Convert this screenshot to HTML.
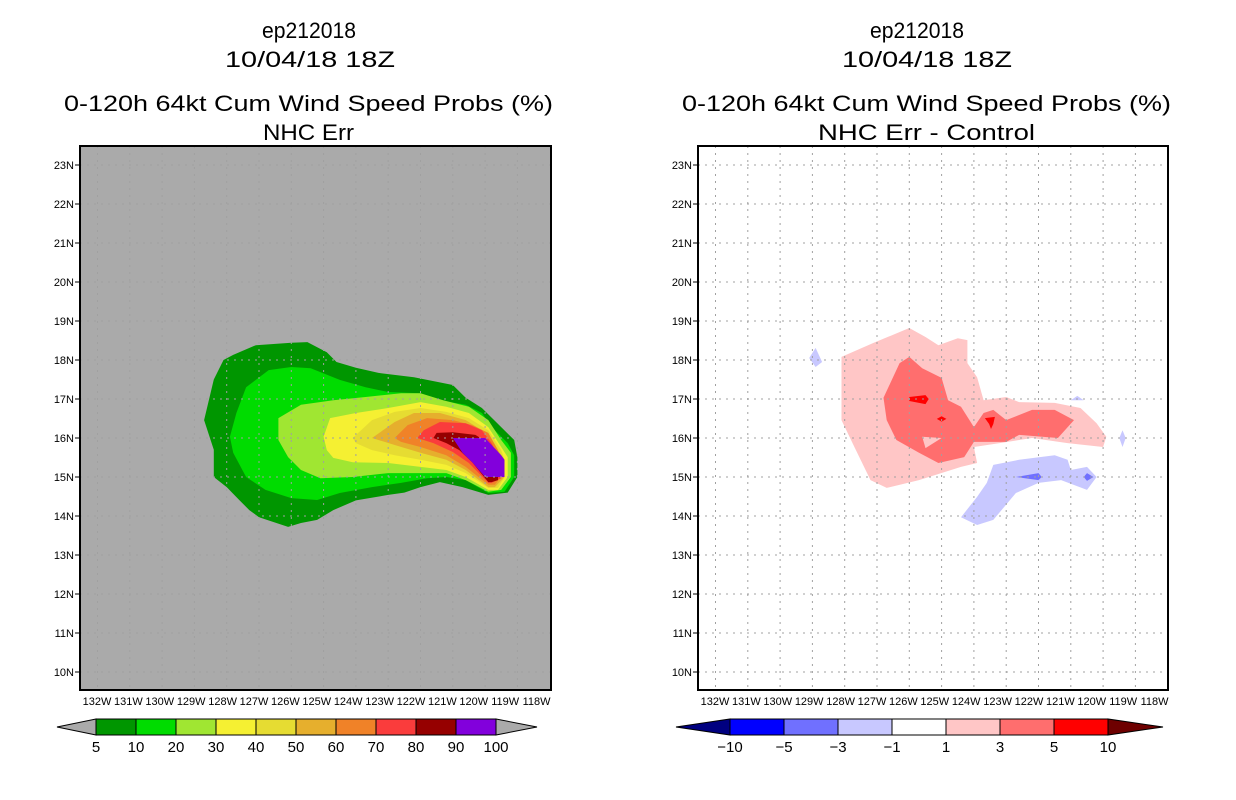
<!DOCTYPE html>
<html><head><meta charset="utf-8"><style>
html,body{margin:0;padding:0;background:#fff;}
svg{display:block;}
text{font-family:"Liberation Sans",sans-serif;fill:#000;}
.t{font-size:22px;}
.ax{font-size:11px;}
.cb{font-size:15px;}
</style></head><body>
<svg id="chart" width="1236" height="800" viewBox="0 0 1236 800" xmlns="http://www.w3.org/2000/svg">
<defs>
<clipPath id="clipL"><rect x="80" y="146" width="471" height="544"/></clipPath>
<clipPath id="clipR"><rect x="698" y="146" width="470" height="544"/></clipPath>
</defs>
<g>
<text class="t" x="262" y="38" textLength="94" lengthAdjust="spacingAndGlyphs">ep212018</text>
<text class="t" x="225" y="67" textLength="170" lengthAdjust="spacingAndGlyphs">10/04/18 18Z</text>
<text class="t" x="64" y="111" textLength="489" lengthAdjust="spacingAndGlyphs">0-120h 64kt Cum Wind Speed Probs (%)</text>
<text class="t" x="263" y="140" textLength="91" lengthAdjust="spacingAndGlyphs">NHC Err</text>
</g>
<g>
<text class="t" x="870" y="38" textLength="94" lengthAdjust="spacingAndGlyphs">ep212018</text>
<text class="t" x="842" y="67" textLength="170" lengthAdjust="spacingAndGlyphs">10/04/18 18Z</text>
<text class="t" x="682" y="111" textLength="489" lengthAdjust="spacingAndGlyphs">0-120h 64kt Cum Wind Speed Probs (%)</text>
<text class="t" x="818" y="140" textLength="217" lengthAdjust="spacingAndGlyphs">NHC Err - Control</text>
</g>
<rect x="80" y="146" width="471" height="544" fill="#aaaaaa"/>
<g id="leftFill" clip-path="url(#clipL)"></g>
<g id="rightFill" clip-path="url(#clipR)"></g>
<g id="grids"></g>
<rect x="80" y="146" width="471" height="544" fill="none" stroke="#000" stroke-width="2"/>
<rect x="698" y="146" width="470" height="544" fill="none" stroke="#000" stroke-width="2"/>
<g id="axes"></g>
<g id="cbars"></g>
</svg>
<script>
// axis data
const latTicks = [23,22,21,20,19,18,17,16,15,14,13,12,11,10];
const lonTicks = [132,131,130,129,128,127,126,125,124,123,122,121,120,119,118];
// left colorbar
const leftLevels = ['5','10','20','30','40','50','60','70','80','90','100'];
const leftColors = ['#009600','#00dc00','#a0e632','#f5f032','#e6dc32','#e6af2d','#f08228','#fa3c3c','#960000','#8200dc'];
// right colorbar
const rightLevels = ['\u221210','\u22125','\u22123','\u22121','1','3','5','10'];
const rightColors = ['#0000ff','#7070ff','#c8c8ff','#ffffff','#ffc6c6','#ff6e6e','#ff0000'];
// left contour polygons [lonW, lat]
const p5 = [[128.1,18.0],[127.8,18.13],[127.1,18.38],[126.0,18.44],[125.5,18.46],[124.9,18.2],[124.6,17.95],[124.0,17.8],[123.3,17.67],[122.2,17.56],[121.5,17.44],[121.0,17.36],[120.6,17.03],[120.1,16.77],[119.5,16.28],[119.1,15.95],[119.0,15.5],[119.0,15.0],[119.3,14.6],[119.9,14.54],[120.7,14.74],[121.4,14.87],[122.0,14.74],[122.5,14.6],[123.0,14.54],[124.0,14.4],[124.7,14.15],[125.2,13.9],[125.7,13.82],[126.1,13.72],[127.0,13.97],[127.3,14.15],[127.6,14.4],[128.0,14.74],[128.4,15.0],[128.4,15.7],[128.7,16.46],[128.4,17.5]];
const p10 = [[127.4,17.3],[126.7,17.74],[126.0,17.82],[125.4,17.79],[124.5,17.49],[123.7,17.3],[123.0,17.18],[122.0,17.15],[121.4,16.97],[120.6,16.85],[120.1,16.64],[119.8,16.28],[119.3,15.87],[119.1,15.56],[119.1,15.0],[119.4,14.62],[119.9,14.59],[120.6,14.92],[121.2,15.0],[121.8,14.97],[122.6,14.85],[123.5,14.74],[124.5,14.59],[125.2,14.41],[126.0,14.46],[126.8,14.67],[127.4,15.0],[127.8,15.62],[127.9,16.03],[127.7,16.64]];
const p20 = [[126.4,16.51],[125.7,16.85],[124.7,16.97],[123.7,17.05],[122.6,17.15],[122.0,17.15],[121.3,16.97],[120.5,16.8],[119.9,16.46],[119.5,15.95],[119.2,15.62],[119.2,15.0],[119.5,14.67],[119.9,14.62],[120.6,14.92],[121.2,15.1],[122.0,15.1],[123.0,15.1],[124.1,15.0],[125.1,14.97],[125.7,15.18],[126.1,15.51],[126.4,15.95]];
const p30 = [[125.0,16.03],[124.8,16.51],[124.0,16.64],[123.0,16.77],[122.0,16.92],[121.2,16.8],[120.5,16.64],[119.9,16.28],[119.5,15.77],[119.3,15.51],[119.3,15.0],[119.6,14.67],[119.9,14.67],[120.6,15.0],[121.2,15.18],[122.0,15.26],[123.0,15.36],[124.1,15.38],[124.7,15.49],[124.9,15.69]];
const p40 = [[124.1,16.0],[123.5,16.46],[122.8,16.67],[122.0,16.77],[121.2,16.67],[120.5,16.51],[119.9,16.2],[119.5,15.69],[119.4,15.44],[119.4,15.0],[119.6,14.72],[119.9,14.72],[120.6,15.1],[121.2,15.31],[122.0,15.44],[122.8,15.56],[123.5,15.69],[124.0,15.87]];
const p50 = [[123.5,16.0],[122.8,16.41],[122.2,16.64],[121.4,16.64],[120.6,16.46],[120.1,16.2],[119.6,15.69],[119.4,15.44],[119.4,15.0],[119.7,14.74],[119.9,14.74],[120.6,15.18],[121.2,15.44],[122.0,15.62],[122.8,15.82]];
const p60 = [[122.8,16.0],[122.4,16.33],[121.8,16.51],[121.0,16.46],[120.4,16.33],[119.9,16.13],[119.6,15.69],[119.5,15.38],[119.5,15.0],[119.7,14.8],[119.9,14.8],[120.6,15.26],[121.2,15.56],[122.0,15.77],[122.6,15.9]];
const p70 = [[122.1,16.0],[121.9,16.2],[121.4,16.41],[120.6,16.38],[120.1,16.2],[119.8,15.87],[119.5,15.36],[119.5,14.97],[119.8,14.85],[119.9,14.85],[120.5,15.36],[121.0,15.64],[121.6,15.87]];
const p80 = [[121.6,16.0],[121.5,16.13],[121.0,16.15],[120.3,16.08],[119.8,15.82],[119.6,15.36],[119.6,14.92],[119.8,14.87],[119.9,14.87],[120.4,15.38],[120.8,15.69],[121.2,15.87]];
const p90 = [[121.0,16.0],[120.0,16.0],[119.5,15.56],[119.4,15.44],[119.4,15.0],[120.0,15.0],[120.4,15.38],[120.7,15.62]];
// right contour polygons [lonW, lat]
const rPink1 = [[128.1,18.08],[127.1,18.44],[126.0,18.82],[125.5,18.59],[125.1,18.38],[124.5,18.56],[124.2,18.51],[124.2,17.92],[123.9,17.56],[123.7,16.97],[123.0,17.05],[122.6,16.92],[121.5,16.9],[120.7,16.77],[120.2,16.38],[119.9,16.03],[120.0,15.77],[121.1,15.87],[122.2,16.0],[123.2,15.87],[124.0,15.77],[123.9,15.36],[124.4,15.26],[125.7,14.92],[126.7,14.72],[127.2,14.92],[127.7,15.77],[128.1,16.46],[128.1,17.05]];
const rPink3 = [[126.8,17.03],[126.3,17.92],[126.0,18.08],[125.6,17.79],[125.0,17.54],[124.8,16.97],[124.4,16.8],[124.0,16.28],[123.7,16.64],[123.4,16.72],[123.0,16.46],[122.2,16.72],[121.5,16.72],[120.9,16.46],[121.4,16.0],[122.6,16.08],[123.0,15.9],[124.0,15.9],[124.3,15.51],[125.1,15.36],[125.7,15.62],[126.4,15.95],[126.7,16.46]];
const rHole = [[125.6,16.03],[125.0,16.0],[125.5,15.74]];
const rRed1 = [[126.0,17.05],[125.5,17.1],[125.4,17.0],[125.5,16.87],[126.0,16.95]];
const rRed2 = [[125.15,16.49],[125.0,16.56],[124.85,16.49],[125.0,16.42]];
const rRed3 = [[123.66,16.51],[123.35,16.54],[123.4,16.36],[123.47,16.23],[123.53,16.36]];
const rBlue1 = [[123.4,15.31],[122.6,15.44],[121.5,15.56],[121.1,15.44],[121.0,15.18],[120.5,15.26],[120.2,15.0],[120.5,14.67],[121.3,14.92],[122.0,14.85],[122.7,14.59],[123.4,13.9],[123.9,13.77],[124.4,13.97],[123.9,14.49],[123.6,14.85]];
const rBlue2 = [[129.1,18.05],[128.9,18.31],[128.7,17.95],[128.9,17.82]];
const rBlue3 = [[119.5,16.0],[119.4,16.2],[119.3,16.0],[119.4,15.77]];
const rBlue4 = [[121.0,16.97],[120.8,17.08],[120.6,16.97]];
const rBlueM1 = [[122.7,15.0],[122.0,15.1],[121.9,15.0],[122.0,14.92]];
const rBlueM2 = [[120.6,15.0],[120.5,15.1],[120.3,15.0],[120.5,14.9]];

const NS='http://www.w3.org/2000/svg';
function X(lonW, off){ return 97.5 + off + (132 - lonW)*32.3; }
function Y(lat){ return 165 + (23 - lat)*39; }
function mk(tag, attrs, parent){ const e=document.createElementNS(NS,tag); for(const k in attrs) e.setAttribute(k, attrs[k]); parent.appendChild(e); return e; }
function poly(pts, off, color, parent, name){
  const d = pts.map(p => X(p[0],off).toFixed(1)+','+Y(p[1]).toFixed(1)).join(' ');
  const e = mk('polygon',{points:d, fill:color}, parent);
  
  
}
const L=document.getElementById('leftFill');
const leftPolys=[p5,p10,p20,p30,p40,p50,p60,p70,p80,p90];
leftPolys.forEach((p,i)=>poly(p,0,leftColors[i],L,'contour-'+leftLevels[i]));
const R=document.getElementById('rightFill');
poly(rPink1,618,'#ffc6c6',R,'contour-pos-1');
poly(rPink3,618,'#ff6e6e',R,'contour-pos-3');
poly(rHole,618,'#ffc6c6',R,'contour-hole');
poly(rRed1,618,'#ff0000',R,'contour-pos-5a');
poly(rRed2,618,'#ff0000',R,'contour-pos-5b');
poly(rRed3,618,'#ff0000',R,'contour-pos-5c');
poly(rBlue1,618,'#c8c8ff',R,'contour-neg-1a');
poly(rBlue2,618,'#c8c8ff',R,'contour-neg-1b');
poly(rBlue3,618,'#c8c8ff',R,'contour-neg-1c');
poly(rBlue4,618,'#c8c8ff',R,'contour-neg-1d');
poly(rBlueM1,618,'#7070ff',R,'contour-neg-3a');
poly(rBlueM2,618,'#7070ff',R,'contour-neg-3b');

// grids and axes
const G=document.getElementById('grids'), A=document.getElementById('axes');
[[0,80,551],[618,698,1168]].forEach(([off,x0,x1],pi)=>{
  lonTicks.forEach((lon,i)=>{
    const x=X(lon,off);
    if(x>x0+2 && x<x1-2){
      const l=mk('line',{x1:x,y1:146,x2:x,y2:690,stroke:'#a0a0a0','stroke-width':1,'stroke-dasharray':'2,5'},G);
      
      
    }
    const t=mk('text',{x:x0+17+i*31.4,y:705,'text-anchor':'middle','class':'ax'},A);
    
    
    t.textContent=lon+'W';
  });
  latTicks.forEach(lat=>{
    const y=Y(lat);
    const l=mk('line',{x1:x0,y1:y,x2:x1,y2:y,stroke:'#a0a0a0','stroke-width':1,'stroke-dasharray':'2,5'},G);
    
    
    const tk=mk('line',{x1:x0-5,y1:y,x2:x0,y2:y,stroke:'#000','stroke-width':1},A);
    
    
    const t=mk('text',{x:x0-6,y:y+4,'text-anchor':'end','class':'ax'},A);
    
    
    t.textContent=lat+'N';
  });
});

// colorbars
const C=document.getElementById('cbars');
function cbar(x0,w,colors,levels,leftTip,rightTip,lc,rc,name){
  const y0=719,y1=735,ym=727;
  const n=colors.length, x1=x0+w*n;
  const lt=mk('polygon',{points:`${leftTip},${ym} ${x0},${y0} ${x0},${y1}`,fill:lc,stroke:'#000','stroke-width':1},C);
  
  
  const rt=mk('polygon',{points:`${rightTip},${ym} ${x1},${y0} ${x1},${y1}`,fill:rc,stroke:'#000','stroke-width':1},C);
  
  
  colors.forEach((c,i)=>{
    const r=mk('rect',{x:x0+i*w,y:y0,width:w,height:y1-y0,fill:c,stroke:'#000','stroke-width':1},C);
    
    
  });
  levels.forEach((lv,i)=>{
    const t=mk('text',{x:x0+i*w,y:752,'text-anchor':'middle','class':'cb'},C);
    
    
    t.textContent=lv;
  });
}
cbar(96,40,leftColors,leftLevels,57,537,'#aaaaaa','#aaaaaa','left-colorbar');
cbar(730,54,rightColors,rightLevels,676,1163,'#000080','#6e0000','right-colorbar');
</script>
</body></html>
